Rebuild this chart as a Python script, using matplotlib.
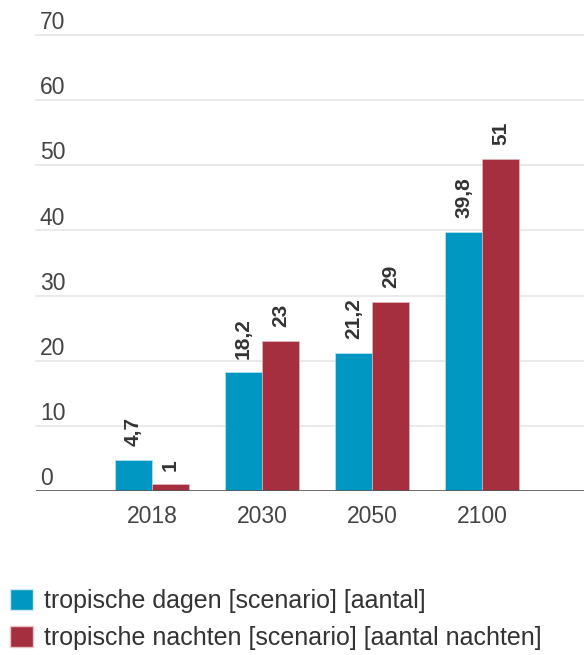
import numpy as np
import matplotlib.pyplot as plt
from matplotlib.patches import Patch

years = ["2018", "2030", "2050", "2100"]
dagen = [4.7, 18.2, 21.2, 39.8]
nachten = [1, 23, 29, 51]
dagen_lbl = ["4,7", "18,2", "21,2", "39,8"]
nachten_lbl = ["1", "23", "29", "51"]
yticks = [0, 10, 20, 30, 40, 50, 60, 70]

blue = "#0097c2"
red = "#a62f3f"
txt = "#333333"

plt.rcParams['font.family'] = ['Liberation Sans', 'DejaVu Sans']

fig = plt.figure(figsize=(5.84, 6.55), dpi=100)
ax = fig.add_axes([36/584, 164/655, 548/584, 456/655])

x = np.arange(len(years))
w = 0.336
b1 = ax.bar(x - w/2, dagen, w, color=blue, edgecolor="#cfe9f2", linewidth=0.4)
b2 = ax.bar(x + w/2, nachten, w, color=red, edgecolor="#e6c4c8", linewidth=0.4)

for rects, lbls in [(b1, dagen_lbl), (b2, nachten_lbl)]:
    for r, l in zip(rects, lbls):
        ax.annotate(l, (r.get_x() + r.get_width()/2, r.get_height()),
                    xytext=(0, 10), textcoords="offset points",
                    rotation=90, ha="center", va="bottom",
                    fontsize=15, fontweight="bold", color=txt)

ax.set_xlim(-1.055, 3.927)
ax.set_ylim(0, 70)
for t in yticks[1:]:
    ax.axhline(t, color="#e6e6e6", lw=1.2, zorder=0, clip_on=False)
ax.axhline(0, color="#555555", lw=1.2, zorder=3)

for t in yticks:
    ax.text(4/548, t + 0.9, str(t), transform=ax.get_yaxis_transform(),
            ha="left", va="baseline", fontsize=16.5, color="#444444")

ax.set_xticks(x)
ax.set_xticklabels(years, fontsize=16.5, color="#444444")
ax.tick_params(axis="x", length=0, pad=10)
ax.set_yticks([])
for s in ax.spines.values():
    s.set_visible(False)

handles = [Patch(facecolor=blue, edgecolor="#cfe9f2"),
           Patch(facecolor=red, edgecolor="#e6c4c8")]
fig.legend(handles, ["tropische dagen [scenario] [aantal]",
                     "tropische nachten [scenario] [aantal nachten]"],
           loc="upper left", bbox_to_anchor=(10/584, 66/655), frameon=False,
           fontsize=18, labelcolor=txt, handlelength=0.92, handleheight=0.92,
           handletextpad=0.42, labelspacing=0.52, borderaxespad=0, borderpad=0)

fig.savefig("out.png", dpi=100)
